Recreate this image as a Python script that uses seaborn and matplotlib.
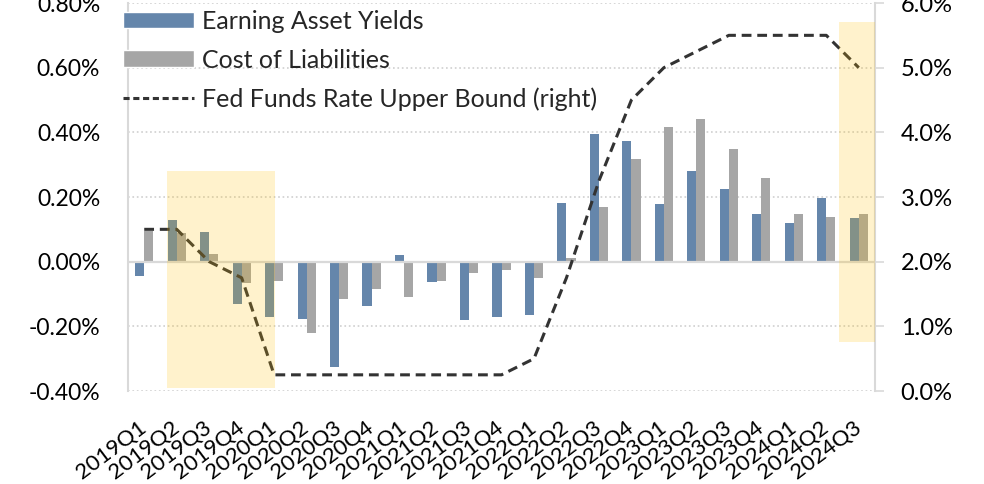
import numpy as np
import pandas as pd
import seaborn as sns
import matplotlib.pyplot as plt
from matplotlib.patches import Rectangle, Patch
from matplotlib.lines import Line2D
from matplotlib.ticker import FuncFormatter

quarters = ["2019Q1", "2019Q2", "2019Q3", "2019Q4",
            "2020Q1", "2020Q2", "2020Q3", "2020Q4",
            "2021Q1", "2021Q2", "2021Q3", "2021Q4",
            "2022Q1", "2022Q2", "2022Q3", "2022Q4",
            "2023Q1", "2023Q2", "2023Q3", "2023Q4",
            "2024Q1", "2024Q2", "2024Q3"]
asset_yields = [-0.045, 0.13, 0.093, -0.13, -0.17, -0.177, -0.325, -0.138,
                0.02, -0.063, -0.18, -0.17, -0.166, 0.181, 0.395, 0.374,
                0.179, 0.279, 0.226, 0.147, 0.12, 0.196, 0.135]
cost_liab = [0.096, 0.09, 0.025, -0.065, -0.06, -0.22, -0.115, -0.085,
             -0.11, -0.06, -0.036, -0.025, -0.05, 0.012, 0.169, 0.317,
             0.418, 0.44, 0.349, 0.258, 0.147, 0.138, 0.147]
fed_upper = [2.5, 2.5, 2.0, 1.75, 0.25, 0.25, 0.25, 0.25, 0.25, 0.25, 0.25,
             0.25, 0.5, 1.75, 3.25, 4.5, 5.0, 5.25, 5.5, 5.5, 5.5, 5.5, 5.0]
series_names = ["Earning Asset Yields", "Cost of Liabilities"]
line_name = "Fed Funds Rate Upper Bound (right)"

blue = "#6586AB"
gray = "#A6A6A6"
grid_c = "#D9D9D9"

df = pd.DataFrame({
    "quarter": quarters * 2,
    "value": asset_yields + cost_liab,
    "series": [series_names[0]] * len(quarters) + [series_names[1]] * len(quarters),
})

sns.set_theme(style="white")
plt.rcParams["font.family"] = ["Lato", "DejaVu Sans"]

fig = plt.figure(figsize=(9.84, 4.84), dpi=100)
ax = fig.add_axes([128 / 984, 1 - 391 / 484, (875 - 128) / 984, (391 - 3) / 484])

sns.barplot(data=df, x="quarter", y="value", hue="series", palette=[blue, gray],
            width=0.56, saturation=1, legend=False, ax=ax, linewidth=0)

ax.set_xlim(-0.5, len(quarters) - 0.5)
ax.set_ylim(-0.4, 0.8)
ax.set_yticks(np.round(np.arange(-0.4, 0.81, 0.2), 2))
ax.yaxis.set_major_formatter(FuncFormatter(lambda v, p: f"{v:.2f}%"))
ax.grid(axis="y", ls=":", color="#CFCFCF", lw=1.2)
ax.axhline(0, color=grid_c, lw=1.6, zorder=1)
ax.set_axisbelow(True)
ax.set_xlabel("")
ax.set_ylabel("")
ax.set_xticks(range(len(quarters)))
ax.set_xticklabels(quarters, rotation=37, ha="right", va="center", rotation_mode="anchor")
ax.tick_params(axis="x", length=0, pad=25, labelsize=16, colors="black")
ax.tick_params(axis="y", length=0, labelsize=16.5, labelcolor="black", pad=20)
for s in ["top", "bottom", "right"]:
    ax.spines[s].set_visible(False)
ax.spines["left"].set_color(grid_c)
ax.spines["left"].set_linewidth(1.5)

ax2 = ax.twinx()
ax2.plot(range(len(quarters)), fed_upper, color="#333333", lw=2.2, ls=(0, (3.2, 1.9)))
ax2.set_ylim(0, 6)
ax2.set_yticks(np.arange(0, 6.1, 1.0))
ax2.yaxis.set_major_formatter(FuncFormatter(lambda v, p: f"{v:.1f}%"))
ax2.tick_params(axis="y", length=6.5, width=1.2, color=grid_c, labelsize=17, labelcolor="black", pad=12)
for s in ["top", "bottom", "left"]:
    ax2.spines[s].set_visible(False)
ax2.spines["right"].set_color(grid_c)
ax2.spines["right"].set_linewidth(1.5)

# highlighted periods
for x0, x1, y0, y1 in [(0.7, 4.02, -0.39, 0.281), (21.39, 22.5, -0.249, 0.741)]:
    ax2.add_patch(Rectangle((x0, y0), x1 - x0, y1 - y0, transform=ax.transData,
                            facecolor="#FFBE00", alpha=0.2, lw=0, zorder=5))

handles = [Patch(facecolor=blue), Patch(facecolor=gray),
           Line2D([], [], color="#333333", lw=2.2, ls=(0, (2.0, 1.2)))]
ax2.legend(handles, series_names + [line_name], loc="upper left",
           bbox_to_anchor=(123 / 984, 1 - 10 / 484), bbox_transform=fig.transFigure,
           frameon=False, fontsize=18, handlelength=2.85, handleheight=0.64,
           handletextpad=0.32, labelspacing=0.62, borderpad=0, borderaxespad=0)

fig.savefig("out.png", dpi=100)
